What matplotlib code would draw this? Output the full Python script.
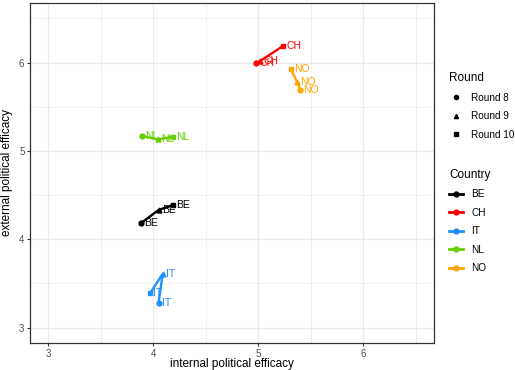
import matplotlib
matplotlib.use("Agg")
from matplotlib import pyplot as plt
from matplotlib.lines import Line2D

plt.rcParams["font.family"] = ["Liberation Sans", "DejaVu Sans"]

countries = ["BE", "CH", "IT", "NL", "NO"]
colors = ["#000000", "#FF0000", "#1E90FF", "#66CD00", "#FFA500"]
rounds = ["Round 8", "Round 9", "Round 10"]
markers = ["o", "^", "s"]

# internal efficacy (x) and external efficacy (y) per round 8, 9, 10
internal = {
    "BE": [3.88, 4.05, 4.19],
    "CH": [4.98, 5.02, 5.24],
    "IT": [4.05, 4.09, 3.97],
    "NL": [3.89, 4.04, 4.19],
    "NO": [5.40, 5.37, 5.31],
}
external = {
    "BE": [4.18, 4.33, 4.39],
    "CH": [5.99, 6.02, 6.19],
    "IT": [3.28, 3.61, 3.39],
    "NL": [5.17, 5.13, 5.16],
    "NO": [5.69, 5.78, 5.93],
}

fig = plt.figure(figsize=(5.15, 3.70), dpi=100)
ax = fig.add_axes([0.0583, 0.073, 0.7844, 0.919])

for c, col in zip(countries, colors):
    xs, ys = internal[c], external[c]
    ax.plot(xs, ys, color=col, lw=1.7, zorder=3, solid_capstyle="butt")
    for x, y, m in zip(xs, ys, markers):
        ax.plot(x, y, marker=m, color=col, ms=3.5, ls="none", zorder=4)
        ax.text(x + 0.03, y, c, color=col, fontsize=7.5, ha="left", va="center", zorder=5)

ax.set_xlim(2.825, 6.675)
ax.set_ylim(2.825, 6.675)
ax.set_xticks([3, 4, 5, 6])
ax.set_yticks([3, 4, 5, 6])
ax.set_xticks([3.5, 4.5, 5.5, 6.5], minor=True)
ax.set_yticks([3.5, 4.5, 5.5, 6.5], minor=True)
ax.grid(which="major", color="#EBEBEB", lw=0.9)
ax.grid(which="minor", color="#EBEBEB", lw=0.5)
ax.set_axisbelow(True)
for s in ax.spines.values():
    s.set_color("#333333")
    s.set_linewidth(0.9)
ax.tick_params(which="major", length=2.5, color="#333333", labelsize=7, labelcolor="#4D4D4D", pad=1.5)
ax.tick_params(which="minor", length=0)
ax.set_xlabel("internal political efficacy", fontsize=8.5)
ax.set_ylabel("external political efficacy", fontsize=8.5)
ax.xaxis.set_label_coords(0.5, -0.043)
ax.yaxis.set_label_coords(-0.042, 0.5)

round_handles = [Line2D([], [], marker=m, color="black", ls="none", ms=3) for m in markers]
leg1 = fig.legend(round_handles, rounds, title="Round", loc="upper left",
                  bbox_to_anchor=(0.865, 0.815), frameon=False, fontsize=7.2,
                  title_fontsize=8.5, alignment="left", handlelength=1.4,
                  labelspacing=0.85, handletextpad=0.8, borderaxespad=0)
country_handles = [Line2D([], [], marker="o", color=col, lw=2, ms=3.5) for col in colors]
leg2 = fig.legend(country_handles, countries, title="Country", loc="upper left",
                  bbox_to_anchor=(0.865, 0.555), frameon=False, fontsize=7.2,
                  title_fontsize=8.5, alignment="left", handlelength=1.4,
                  labelspacing=0.85, handletextpad=0.8, borderaxespad=0)

fig.savefig("out.png", dpi=100)
